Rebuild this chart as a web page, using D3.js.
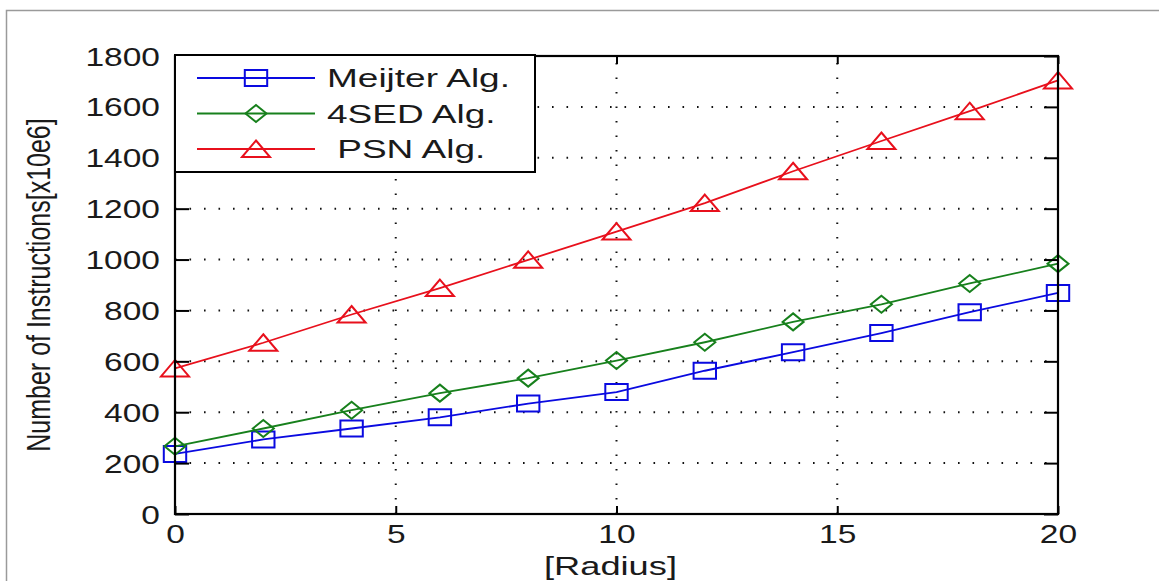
<!DOCTYPE html>
<html>
<head>
<meta charset="utf-8">
<script src="https://cdn.jsdelivr.net/npm/d3@7/dist/d3.min.js"></script>
<style>
  html, body { margin: 0; padding: 0; background: #fff; }
  svg { display: block; }
  text { font-family: "Liberation Sans", Arial, sans-serif; fill: #1a1a1a; white-space: pre; }
</style>
</head>
<body>
<svg id="chart" width="1159" height="581"></svg>
<script>
// Radius values on the x axis
const radius = [0, 2, 4, 6, 8, 10, 12, 14, 16, 18, 20];
// Number of instructions (x10e6) per algorithm
const meijter = [236, 293, 336, 380, 434, 479, 563, 636, 711, 793, 869];
const sed4    = [266, 336, 408, 475, 534, 603, 675, 755, 824, 906, 984];
const psn     = [572, 673, 784, 888, 999, 1110, 1222, 1347, 1466, 1583, 1704];

const seriesNames = ["Meijter Alg.", "4SED Alg.", " PSN Alg."];
const xTicks = [0, 5, 10, 15, 20];
const yTicks = [0, 200, 400, 600, 800, 1000, 1200, 1400, 1600, 1800];
const xTitle = "[Radius]";
const yTitle = "Number of Instructions[x10e6]";

const svg = d3.select("#chart");
const W = 1159, H = 581;
const plotL = 175, plotR = 1058, plotT = 56, plotB = 514;
const SX = 1.34;   // horizontal stretch of the figure's lettering

const x = d3.scaleLinear().domain([0, 20]).range([plotL, plotR]);
const y = d3.scaleLinear().domain([0, 1800]).range([plotB, plotT]);

// outer figure frame (left and top edges visible)
svg.append("path")
  .attr("d", `M6.5,${H + 5} V10.5 H${W + 5}`)
  .attr("fill", "none").attr("stroke", "#9a9a9a").attr("stroke-width", 1.5);

// dotted grid
const grid = svg.append("g").attr("stroke", "#111").attr("stroke-width", 2)
  .attr("stroke-dasharray", "1.6,12.9").attr("fill", "none");
grid.selectAll("line.gy").data(yTicks.slice(1, -1)).join("line")
  .attr("x1", plotL).attr("x2", plotR).attr("y1", d => y(d)).attr("y2", d => y(d));
grid.selectAll("line.gx").data(xTicks.slice(1, -1)).join("line")
  .attr("y1", plotB).attr("y2", plotT).attr("x1", d => x(d)).attr("x2", d => x(d));

// series
const series = [
  { name: seriesNames[0], values: meijter, color: "#0a0ae0", marker: "square" },
  { name: seriesNames[1], values: sed4,    color: "#17801c", marker: "diamond" },
  { name: seriesNames[2], values: psn,     color: "#e8101c", marker: "triangle" }
];

const markerPath = {
  square:   "M-8,-8H8V8H-8Z",
  diamond:  "M0,-8.5L7.5,0L0,8.5L-7.5,0Z",
  triangle: "M0,-8.5L10,8L-10,8Z"
};

const line = d3.line().x((d, i) => x(radius[i])).y(d => y(d));

series.forEach(s => {
  svg.append("path").datum(s.values)
    .attr("d", line).attr("fill", "none")
    .attr("stroke", s.color).attr("stroke-width", 1.8);
  svg.append("g").selectAll("path").data(s.values).join("path")
    .attr("d", markerPath[s.marker])
    .attr("transform", (d, i) => `translate(${x(radius[i])},${y(d)}) scale(1.4,1)`)
    .attr("fill", "none").attr("stroke", s.color).attr("stroke-width", 2)
    .attr("vector-effect", "non-scaling-stroke");
});

// axes
const fmt = d3.format("d");
const gx = svg.append("g").attr("transform", `translate(0,${plotB})`)
  .call(d3.axisBottom(x).tickValues(xTicks).tickSize(-8).tickSizeOuter(0).tickFormat(fmt));
const gy = svg.append("g").attr("transform", `translate(${plotL},0)`)
  .call(d3.axisLeft(y).tickValues(yTicks).tickSize(-14).tickSizeOuter(0).tickFormat(fmt));
const gt = svg.append("g").attr("transform", `translate(0,${plotT})`)
  .call(d3.axisTop(x).tickValues(xTicks).tickSize(-8).tickSizeOuter(0).tickFormat(""));
const gr = svg.append("g").attr("transform", `translate(${plotR},0)`)
  .call(d3.axisRight(y).tickValues(yTicks).tickSize(-14).tickSizeOuter(0).tickFormat(""));

[gx, gy, gt, gr].forEach(g => {
  g.select(".domain").remove();
  g.selectAll(".tick line").attr("stroke", "#000").attr("stroke-width", 2);
});

gx.selectAll(".tick text")
  .attr("y", null).attr("dy", null)
  .attr("transform", `translate(0,29) scale(${SX},1)`)
  .attr("font-size", 25).attr("text-anchor", "middle")
  .attr("fill", "#1a1a1a").attr("font-family", null);
gy.selectAll(".tick text")
  .attr("x", null).attr("dy", null)
  .attr("transform", `translate(-15,9) scale(${SX},1)`)
  .attr("font-size", 25).attr("text-anchor", "end")
  .attr("fill", "#1a1a1a").attr("font-family", null);

// axes box
svg.append("rect")
  .attr("x", plotL).attr("y", plotT).attr("width", plotR - plotL).attr("height", plotB - plotT)
  .attr("fill", "none").attr("stroke", "#000").attr("stroke-width", 2.2);

// axis titles
svg.append("text").text(xTitle)
  .attr("transform", `translate(${(plotL + plotR) / 2 - 6},575) scale(1.45,1)`)
  .attr("font-size", 25).attr("text-anchor", "middle");
svg.append("text").text(yTitle)
  .attr("transform", `translate(50,285) scale(${SX},1) rotate(-90)`)
  .attr("font-size", 25).attr("text-anchor", "middle");

// legend
const lg = svg.append("g");
lg.append("rect").attr("x", 175).attr("y", 55).attr("width", 360).attr("height", 117)
  .attr("fill", "#fff").attr("stroke", "#000").attr("stroke-width", 2);
const rowY = d3.scalePoint().domain(series.map(s => s.name)).range([78, 149]);
series.forEach(s => {
  const cy = rowY(s.name);
  lg.append("line").attr("x1", 197).attr("x2", 315).attr("y1", cy).attr("y2", cy)
    .attr("stroke", s.color).attr("stroke-width", 1.8);
  lg.append("path").attr("d", markerPath[s.marker])
    .attr("transform", `translate(256,${cy}) scale(1.4,1)`)
    .attr("fill", "none").attr("stroke", s.color).attr("stroke-width", 2)
    .attr("vector-effect", "non-scaling-stroke");
  lg.append("text").text(s.name)
    .attr("transform", `translate(327,${cy + 9}) scale(1.48,1)`)
    .attr("font-size", 25);
});
</script>
</body>
</html>
